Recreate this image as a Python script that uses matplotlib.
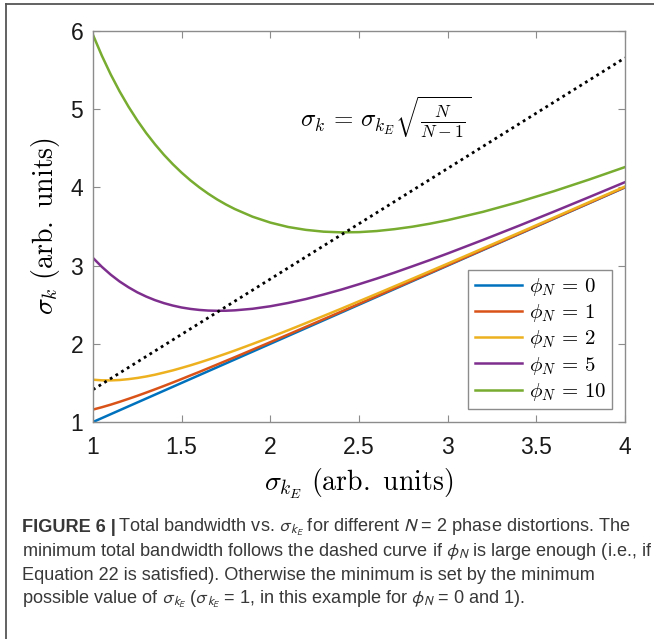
import matplotlib.pyplot as plt
from matplotlib.lines import Line2D

# valores
sigma_kE = [1.0, 1.05, 1.1, 1.15, 1.2, 1.25, 1.3, 1.35, 1.4, 1.45, 1.5, 1.55, 1.6, 1.65,
            1.7, 1.75, 1.8, 1.9, 2.0, 2.1, 2.2, 2.3, 2.4, 2.5, 2.6, 2.7, 2.8, 2.9, 3.0,
            3.2, 3.4, 3.6, 3.8, 4.0]
phi0 = [1.0, 1.05, 1.1, 1.15, 1.2, 1.25, 1.3, 1.35, 1.4, 1.45, 1.5, 1.55, 1.6, 1.65,
        1.7, 1.75, 1.8, 1.9, 2.0, 2.1, 2.2, 2.3, 2.4, 2.5, 2.6, 2.7, 2.8, 2.9, 3.0,
        3.2, 3.4, 3.6, 3.8, 4.0]
phi1 = [1.159, 1.189, 1.222, 1.258, 1.296, 1.335, 1.376, 1.418, 1.461, 1.505, 1.550,
        1.596, 1.641, 1.688, 1.735, 1.782, 1.829, 1.925, 2.021, 2.118, 2.216, 2.314,
        2.412, 2.511, 2.610, 2.709, 2.808, 2.907, 3.006, 3.205, 3.404, 3.604, 3.803, 4.003]
phi2 = [1.541, 1.533, 1.532, 1.537, 1.548, 1.563, 1.582, 1.605, 1.632, 1.660, 1.692,
        1.725, 1.760, 1.797, 1.835, 1.874, 1.914, 1.998, 2.084, 2.173, 2.264, 2.356,
        2.449, 2.544, 2.639, 2.735, 2.831, 2.928, 3.025, 3.221, 3.417, 3.615, 3.813, 4.011]
phi5 = [3.098, 2.984, 2.884, 2.797, 2.723, 2.658, 2.604, 2.558, 2.520, 2.489, 2.464,
        2.446, 2.433, 2.425, 2.422, 2.423, 2.428, 2.448, 2.480, 2.522, 2.572, 2.630,
        2.693, 2.762, 2.834, 2.910, 2.990, 3.071, 3.155, 3.329, 3.508, 3.691, 3.878, 4.067]
phi10 = [5.950, 5.684, 5.444, 5.228, 5.033, 4.856, 4.695, 4.550, 4.417, 4.297, 4.188,
         4.089, 4.000, 3.919, 3.846, 3.781, 3.723, 3.625, 3.550, 3.494, 3.457, 3.434,
         3.425, 3.428, 3.442, 3.466, 3.497, 3.536, 3.581, 3.688, 3.813, 3.952, 4.102, 4.260]
curvas = [phi0, phi1, phi2, phi5, phi10]
rotulos = [r'$\phi_N \,=\, 0$', r'$\phi_N \,=\, 1$', r'$\phi_N \,=\, 2$',
           r'$\phi_N \,=\, 5$', r'$\phi_N \,=\, 10$']
cores = ['#0072BD', '#D95319', '#EDB120', '#7E2F8E', '#77AC30']

# curva pontilhada sigma_k = sigma_kE*sqrt(N/(N-1))
x_pont = [1.0, 4.0]
y_pont = [1.414, 5.657]

plt.rcParams['mathtext.fontset'] = 'cm'
plt.rcParams['font.family'] = ['Liberation Sans', 'DejaVu Sans']

fig = plt.figure(figsize=(6.54, 6.39), dpi=100)
ax = fig.add_axes([93 / 654, 1 - 422 / 639, 532 / 654, 391 / 639])

for y, cor, rot in zip(curvas, cores, rotulos):
    ax.plot(sigma_kE, y, color=cor, linewidth=1.8, label=rot)
ax.plot(x_pont, y_pont, color='black', linestyle=(0, (1, 1.4)), linewidth=2.0)

ax.text(2.17, 4.9, r'$\sigma_k \,=\, \sigma_{k_E}\sqrt{\frac{N}{N-1}}$', fontsize=18,
        ha='left', va='center')

ax.set_xlim(1, 4)
ax.set_ylim(1, 6)
ax.set_xticks([1, 1.5, 2, 2.5, 3, 3.5, 4])
ax.set_xticklabels(['1', '1.5', '2', '2.5', '3', '3.5', '4'])
ax.set_yticks([1, 2, 3, 4, 5, 6])
ax.tick_params(direction='in', length=5, width=0.8, color='#8c8c8c', labelsize=16.5,
               top=True, right=True, labelcolor='#1a1a1a')
ax.tick_params(axis='x', pad=10)
ax.tick_params(axis='y', pad=7)
for s in ax.spines.values():
    s.set_color('#8c8c8c')
    s.set_linewidth(1.0)

ax.set_xlabel(r'$\sigma_{k_E}\ \mathrm{(arb.\ units)}$', fontsize=20, labelpad=6)
ax.set_ylabel(r'$\sigma_k\ \mathrm{(arb.\ units)}$', fontsize=20, labelpad=6)

leg = ax.legend(loc='lower right', fontsize=15, handlelength=2.3, handletextpad=0.3,
                labelspacing=0.2, borderpad=0.3, fancybox=False, framealpha=1,
                borderaxespad=0.62)
leg.get_frame().set_edgecolor('#8c8c8c')
leg.get_frame().set_linewidth(1.0)

# moldura da figura
fig.add_artist(Line2D([6 / 654, 6 / 654], [0, 1 - 4 / 639], transform=fig.transFigure,
                      color='#555555', linewidth=1.3))
fig.add_artist(Line2D([6 / 654, 1], [1 - 4 / 639, 1 - 4 / 639], transform=fig.transFigure,
                      color='#555555', linewidth=1.3))

# legenda da figura
cor_txt = '#383838'
tam = 13.1
x0 = 22 / 654
linhas_y = [527, 551, 575, 599]
negrito = fig.text(x0, 1 - linhas_y[0] / 639, 'FIGURE 6 |', fontsize=tam, fontweight='bold',
                   color=cor_txt, va='center', math_fontfamily='stixsans')
fig.canvas.draw()
bb = negrito.get_window_extent(renderer=fig.canvas.get_renderer())
fig.text(bb.x1 / fig.bbox.width + 0.004, 1 - linhas_y[0] / 639,
         r'Total bandwidth vs. $\sigma_{k_E}$ for different $N$ = 2 phase distortions. The',
         fontsize=tam, color=cor_txt, va='center', math_fontfamily='stixsans')
resto = [
    r'minimum total bandwidth follows the dashed curve if $\phi_N$ is large enough (i.e., if',
    r'Equation 22 is satisfied). Otherwise the minimum is set by the minimum',
    r'possible value of $\sigma_{k_E}$ ($\sigma_{k_E}$ = 1, in this example for $\phi_N$ = 0 and 1).',
]
for y, t in zip(linhas_y[1:], resto):
    fig.text(x0, 1 - y / 639, t, fontsize=tam, color=cor_txt, va='center',
             math_fontfamily='stixsans')

fig.savefig('out.png', dpi=100)
